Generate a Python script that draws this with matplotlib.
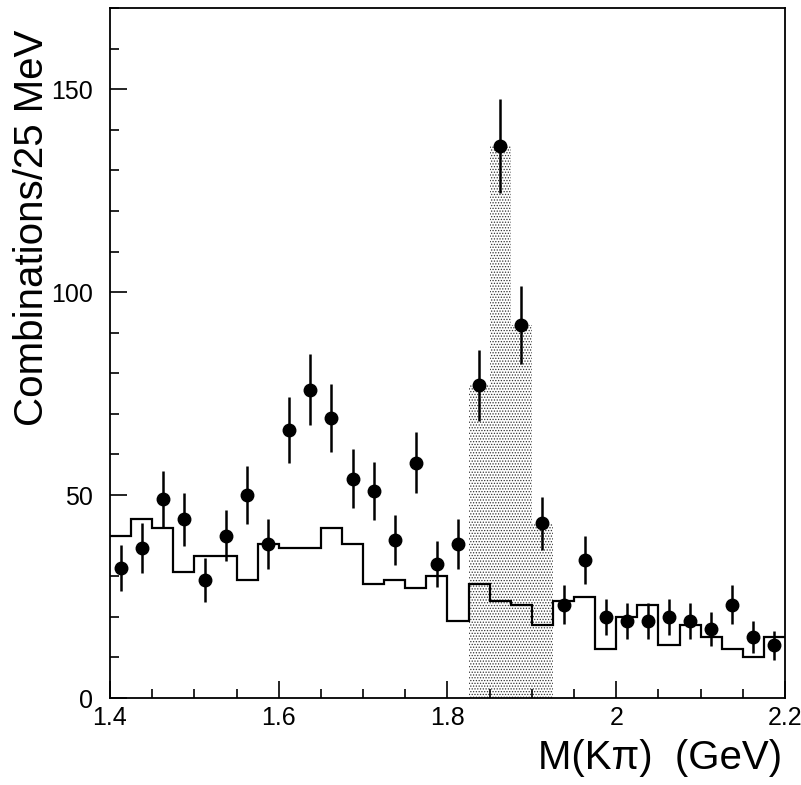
import numpy as np
import matplotlib
matplotlib.use("Agg")
import matplotlib.pyplot as plt
from matplotlib.ticker import MultipleLocator, FixedLocator, FixedFormatter

plt.rcParams['hatch.linewidth'] = 0.6

# Data (bin width 25 MeV, from 1.4 to 2.2 GeV)
bin_lo = 1.4
bin_hi = 2.2
bin_width = 0.025
counts = [32, 37, 49, 44, 29, 40, 50, 38, 66, 76, 69, 54, 51, 39, 58, 33,
          38, 77, 136, 92, 43, 23, 34, 20, 19, 19, 20, 19, 17, 23, 15, 13]
errors = [5.7, 6.1, 7.0, 6.6, 5.4, 6.3, 7.1, 6.2, 8.1, 8.7, 8.3, 7.3, 7.1, 6.2, 7.6, 5.7,
          6.2, 8.8, 11.7, 9.6, 6.6, 4.8, 5.8, 4.5, 4.4, 4.4, 4.5, 4.4, 4.1, 4.8, 3.9, 3.6]
background = [40, 44, 42, 31, 35, 35, 29, 38, 37, 37, 42, 38, 28, 29, 27, 30,
              19, 28, 24, 23, 18, 24, 25, 12, 20, 23, 13, 18, 15, 12, 10, 15]
signal_lo = 1.825
signal_hi = 1.925

x_ticks = [1.4, 1.6, 1.8, 2.0, 2.2]
x_ticklabels = ["1.4", "1.6", "1.8", "2", "2.2"]
y_ticks = [0, 50, 100, 150]
y_ticklabels = ["0", "50", "100", "150"]

edges = np.linspace(bin_lo, bin_hi, len(counts) + 1)
centers = 0.5 * (edges[:-1] + edges[1:])
counts_a = np.array(counts)

fig = plt.figure(figsize=(8.01, 7.85), dpi=100)
ax = fig.add_axes([110/801, 1 - 698/785, (785-110)/801, (698-8)/785])

# shaded signal region
sel = (centers > signal_lo) & (centers < signal_hi)
ax.bar(edges[:-1][sel], counts_a[sel], width=bin_width, align='edge',
       facecolor='none', edgecolor='#333333', hatch='......', linewidth=0, zorder=1)

# background histogram
ax.stairs(background, edges, color='black', linewidth=1.6, baseline=None, zorder=2)

# data points
ax.errorbar(centers, counts, yerr=errors, fmt='o', color='black', ms=9,
            elinewidth=1.8, capsize=0, zorder=3)

ax.set_xlim(bin_lo, bin_hi)
ax.set_ylim(0, 170)

tick_font = {'family': ['Liberation Sans Narrow', 'Liberation Sans', 'DejaVu Sans'], 'size': 18}
ax.xaxis.set_major_locator(FixedLocator(x_ticks))
ax.xaxis.set_major_formatter(FixedFormatter(x_ticklabels))
ax.xaxis.set_minor_locator(MultipleLocator(0.05))
ax.yaxis.set_major_locator(FixedLocator(y_ticks))
ax.yaxis.set_major_formatter(FixedFormatter(y_ticklabels))
ax.yaxis.set_minor_locator(MultipleLocator(10))
ax.tick_params(which='both', direction='in', top=False, right=False, width=1.2)
ax.tick_params(which='major', length=12)
ax.tick_params(which='minor', length=6.5)
ax.tick_params(axis='x', which='major', pad=6)
ax.tick_params(axis='y', which='major', pad=12)
for lab in ax.get_xticklabels() + ax.get_yticklabels():
    lab.set_fontfamily(tick_font['family'])
    lab.set_fontsize(tick_font['size'])
for s in ax.spines.values():
    s.set_linewidth(1.3)

lab_family = ['Liberation Sans', 'DejaVu Sans']
fig.text(782/801, 1 - 758/785, "M(K\u03c0)  (GeV)", ha='right', va='center',
         fontsize=29, family=lab_family)
fig.text(32/801, 1 - 228/785, "Combinations/25 MeV", ha='center', va='center',
         rotation=90, fontsize=29, family=lab_family)

fig.savefig("out.png", dpi=100)
